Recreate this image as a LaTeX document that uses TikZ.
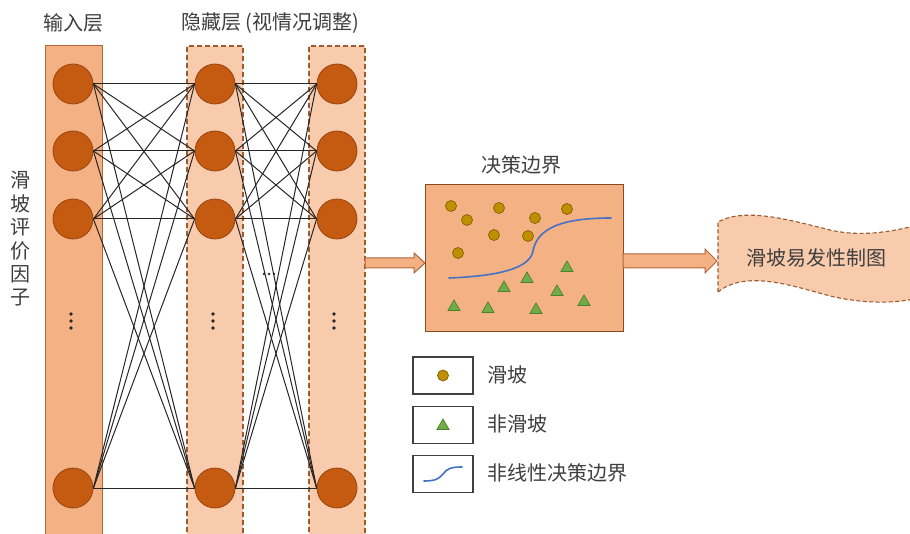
\documentclass[tikz,border=0pt]{standalone}
\usepackage{fontspec}
\newfontfamily\cjk{Noto Sans CJK SC}
\usetikzlibrary{shapes.geometric,calc}

\definecolor{txtgray}{HTML}{3F3F3F}
\definecolor{colA}{HTML}{F4B183}
\definecolor{colB}{HTML}{F8CBAD}
\definecolor{edgeA}{HTML}{B0653A}
\definecolor{edgeB}{HTML}{9C5A30}
\definecolor{neuron}{HTML}{C55A11}
\definecolor{neuronedge}{HTML}{9A4510}
\definecolor{slide}{HTML}{BF8F00}
\definecolor{slideedge}{HTML}{7F6000}
\definecolor{stable}{HTML}{70AD47}
\definecolor{stableedge}{HTML}{4E7F2F}
\definecolor{boundary}{HTML}{4472C4}
\definecolor{boxedge}{HTML}{8A4A20}

\tikzset{
  label text/.style={font=\cjk\fontsize{20}{24}\selectfont, text=txtgray, inner sep=0pt},
  neuronnode/.style={circle, minimum size=40pt, inner sep=0pt, fill=neuron, draw=neuronedge, line width=0.8pt},
  link/.style={draw=black!85, line width=1pt},
  inputcol/.style={fill=colA, draw=edgeA, line width=1pt},
  hiddencol/.style={fill=colB, draw=edgeB, line width=1.2pt, dash pattern=on 5pt off 3pt},
  slidept/.style={circle, minimum size=11pt, inner sep=0pt, fill=slide, draw=slideedge, line width=0.7pt},
  stablept/.style={regular polygon, regular polygon sides=3, minimum size=14pt, inner sep=0pt, fill=stable, draw=stableedge, line width=0.7pt},
  curveline/.style={draw=boundary, line width=1.6pt, line cap=round},
  blockarrow/.style={fill=colA, draw=edgeA, line width=1pt, line join=miter},
  legendbox/.style={draw=black!75, line width=1.4pt, fill=white, minimum width=60pt, minimum height=37pt, inner sep=0pt},
  dotmark/.style={fill=black!85},
}

\begin{document}
\begin{tikzpicture}[x=1pt, y=-1pt]
\useasboundingbox (0,0) rectangle (910,534);
\clip (0,0) rectangle (910,534);

% layer columns
\fill[colA] (45,46) rectangle (102,540);
\draw[inputcol, fill=none] (45,540) -- (45,46) -- (102,46) -- (102,540);
\fill[colB] (187,46) rectangle (243,540);
\draw[hiddencol, fill=none] (187,540) -- (187,46) -- (243,46) -- (243,540);
\fill[colB] (309,46) rectangle (365,540);
\draw[hiddencol, fill=none] (309,540) -- (309,46) -- (365,46) -- (365,540);

% titles
\node[label text] (tin) at (73,23) {输入层};
\node[label text] (thid) at (270,23) {隐藏层 (视情况调整)};
\node[label text, align=center, font=\cjk\fontsize{20}{23.4}\selectfont] (tfac) at (20,239) {滑\\坡\\评\\价\\因\\子};

% neurons
\foreach \k/\y in {1/84, 2/151, 3/219, 4/488} {
  \node[neuronnode] (a\k) at (73,\y) {};
  \node[neuronnode] (b\k) at (215,\y) {};
  \node[neuronnode] (c\k) at (337,\y) {};
}

% full connections
\foreach \i in {1,2,3,4} {
  \foreach \j in {1,2,3,4} {
    \draw[link] (a\i.east) -- (b\j.west);
    \draw[link] (b\i.east) -- (c\j.west);
  }
}

% ellipsis marks
\foreach \x in {71,213,334} {
  \foreach \y in {314,321,328} \fill[dotmark] (\x,\y) circle (1.9pt);
}
\foreach \x in {264,269,274} \fill[dotmark] (\x,274) circle (1.4pt);

% arrow from the network to the decision box
\draw[blockarrow] (365,258) -- (414,258) -- (414,253) -- (425,263) -- (414,273) -- (414,268) -- (365,268) -- cycle;

% decision boundary box
\node[label text] (tdec) at (521,165) {决策边界};
\node[draw=boxedge, fill=colA, line width=1pt, minimum width=198pt, minimum height=147pt, inner sep=0pt] (dec) at (524,258.5) {};
\foreach \p/\x/\y in {1/451/206, 2/467/220, 3/499/208, 4/535/218, 5/567/209, 6/494/235, 7/528/236, 8/458/253}
  \node[slidept] (s\p) at (\x,\y) {};
\foreach \p/\x/\y in {1/567/268, 2/527/279, 3/504/288, 4/557/292, 5/454/307, 6/488/309, 7/536/310, 8/584/302}
  \node[stablept] (n\p) at (\x,\y) {};
\draw[curveline] (449,278) .. controls (500,276) and (530,268) .. (533,251)
  .. controls (537,229) and (560,218) .. (611,218);

% arrow to the map
\draw[blockarrow] (623,254) -- (705,254) -- (705,249) -- (717,261) -- (705,273) -- (705,268) -- (623,268) -- cycle;

% susceptibility map banner
\draw[fill=colB, draw=edgeB, line width=1.1pt, dash pattern=on 4pt off 2.5pt]
  (718,292) -- (718,222)
  .. controls (745,207) and (790,220) .. (830,230)
  .. controls (860,237) and (890,232) .. (914,226)
  -- (914,299)
  .. controls (890,304) and (860,303) .. (830,296)
  .. controls (790,285) and (745,270) .. (718,292) -- cycle;
\node[label text] (tmap) at (816,258) {滑坡易发性制图};

% legend
\node[legendbox] (l1) at (443,375.5) {};
\node[legendbox] (l2) at (443,425) {};
\node[legendbox] (l3) at (443,474) {};
\node[slidept] (l1s) at (l1.center) {};
\node[stablept] (l2s) at ($(l2.center)+(0,1)$) {};
\draw[curveline] ($(l3.center)+(-19,7)$) .. controls ($(l3.center)+(-8,7)$) and ($(l3.center)+(-4,5)$) .. ($(l3.center)+(0,0)$)
  .. controls ($(l3.center)+(4,-6)$) and ($(l3.center)+(10,-7)$) .. ($(l3.center)+(19,-7)$);
\node[label text, anchor=west] (lt1) at (487,375) {滑坡};
\node[label text, anchor=west] (lt2) at (487,424) {非滑坡};
\node[label text, anchor=west] (lt3) at (487,473) {非线性决策边界};
\end{tikzpicture}
\end{document}
